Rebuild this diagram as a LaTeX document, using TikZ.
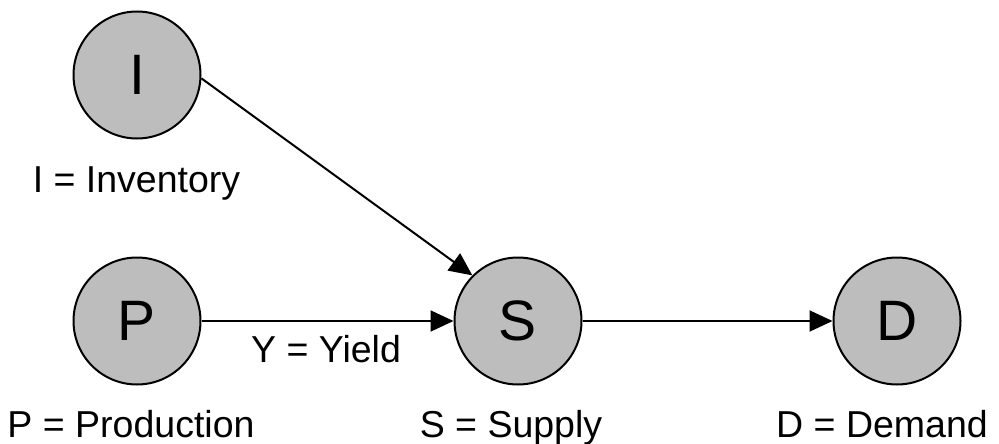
\documentclass[tikz,border=0pt]{standalone}
\usepackage{fontspec}
\setmainfont{Liberation Sans}
\usetikzlibrary{arrows.meta}
\definecolor{nodegray}{gray}{0.74}
\tikzset{
  var/.style={circle, draw=black, line width=2pt, fill=nodegray, minimum size=127pt, inner sep=0pt, font=\fontsize{57}{60}\selectfont},
  lbl/.style={anchor=base, inner sep=0pt, font=\fontsize{37.5}{42}\selectfont},
  conn/.style={line width=2pt, -{Triangle[length=23pt, width=21pt]}}
}
\begin{document}
\begin{tikzpicture}[x=1pt, y=-1pt]
\useasboundingbox (0,0) rectangle (999,444);
\node[var] (I) at (137,75) {I};
\node[var] (P) at (137,321) {P};
\node[var] (S) at (518,321) {S};
\node[var] (D) at (897,321) {D};
\node[lbl] (Il) at (136.5,192) {I = Inventory};
\node[lbl] (Pl) at (131,437) {P = Production};
\node[lbl] (Sl) at (511,437) {S = Supply};
\node[lbl] (Dl) at (882,437) {D = Demand};
\node[lbl] (Yl) at (326,362) {Y = Yield};
\draw[conn] (I.-3) -- (S.135);
\draw[conn] (P.east) -- (S.west);
\draw[conn] (S.east) -- (D.west);
\end{tikzpicture}
\end{document}
